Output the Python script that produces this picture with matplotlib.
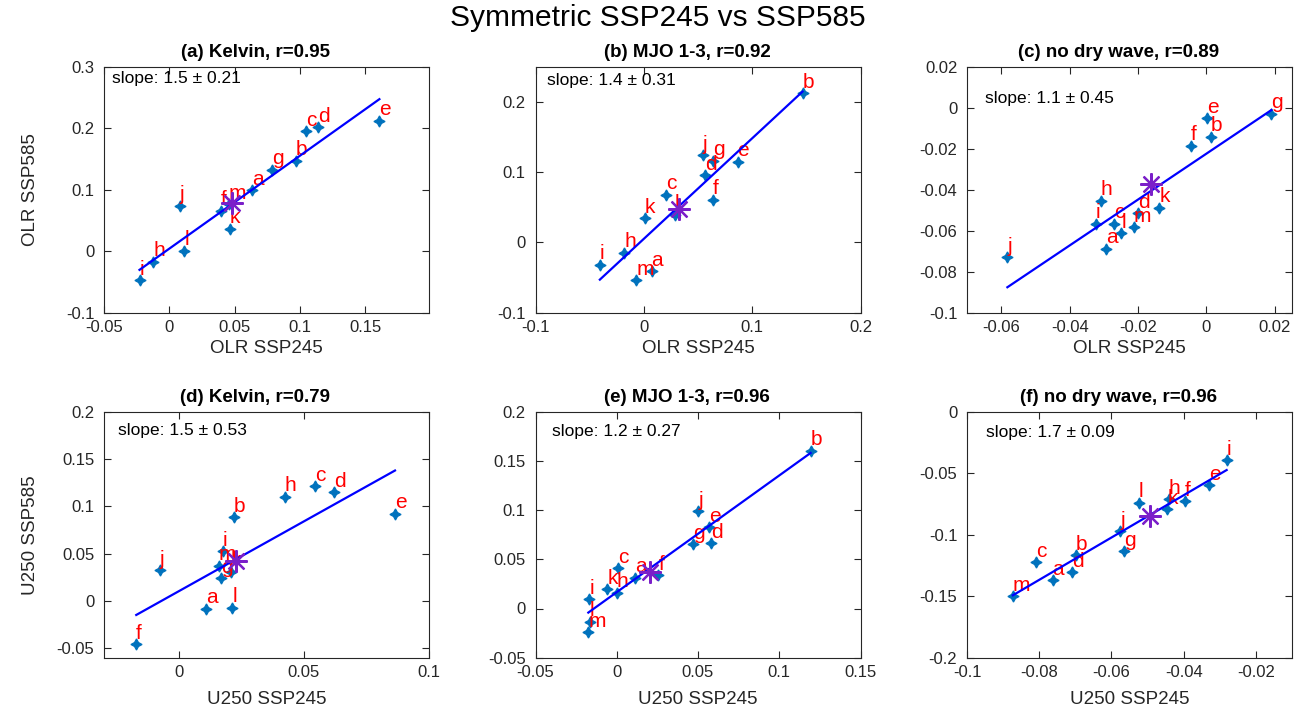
import numpy as np
import matplotlib
matplotlib.use('Agg')
import matplotlib.pyplot as plt
from matplotlib.ticker import MultipleLocator, FuncFormatter

plt.rcParams['font.family'] = ['Liberation Sans', 'DejaVu Sans']
plt.rcParams['axes.unicode_minus'] = False

letters = list('abcdefghijklm')

# OLR panels (top row)
a_x = [0.0636, 0.0969, 0.1046, 0.1141, 0.161, 0.0397, 0.079, -0.0121, -0.0228, 0.0079, 0.0464, 0.0115, 0.0456]
a_y = [0.0992, 0.1466, 0.1952, 0.2016, 0.2125, 0.0657, 0.1327, -0.0168, -0.0476, 0.0738, 0.0361, 0.0005, 0.076]
b_x = [0.0071, 0.1465, 0.0203, 0.0563, 0.0865, 0.0634, 0.064, -0.0182, -0.0406, 0.0542, 0.0009, 0.0286, -0.0068]
b_y = [-0.041, 0.2124, 0.0674, 0.0956, 0.1144, 0.0603, 0.1158, -0.015, -0.0315, 0.1239, 0.0345, 0.0391, -0.0537]
c_x = [-0.0294, 0.0012, -0.027, -0.0201, 0.0002, -0.0046, 0.019, -0.0309, -0.0323, -0.0582, -0.0138, -0.0249, -0.0212]
c_y = [-0.0689, -0.0141, -0.0567, -0.0516, -0.0052, -0.0186, -0.0029, -0.0454, -0.0567, -0.073, -0.0487, -0.0613, -0.0584]

# U250 panels (bottom row)
d_x = [0.0107, 0.022, 0.0543, 0.062, 0.0864, -0.0171, 0.0167, 0.0424, 0.0176, -0.0076, 0.0207, 0.0213, 0.016]
d_y = [-0.008, 0.0884, 0.121, 0.1147, 0.0923, -0.0456, 0.024, 0.1099, 0.0526, 0.0326, 0.031, -0.007, 0.037]
e_x = [0.0113, 0.1193, 0.0006, 0.0578, 0.057, 0.0256, 0.0467, 0.0, -0.0169, 0.0502, -0.0058, -0.0164, -0.0175]
e_y = [0.0314, 0.1602, 0.0408, 0.0661, 0.0826, 0.0337, 0.0651, 0.0162, 0.0094, 0.0988, 0.0195, -0.0136, -0.0243]
f_x = [-0.0763, -0.0699, -0.0809, -0.0708, -0.033, -0.0397, -0.0566, -0.0442, -0.0281, -0.0575, -0.0445, -0.0524, -0.0873]
f_y = [-0.1372, -0.1168, -0.1223, -0.1304, -0.0599, -0.0727, -0.1133, -0.0713, -0.0396, -0.0971, -0.0794, -0.074, -0.1499]

# purple star per panel
star_x = [0.0482, 0.0326, -0.0162, 0.0227, 0.0207, -0.0492]
star_y = [0.0777, 0.0472, -0.037, 0.0421, 0.037, -0.0849]

# fitted line per panel
fit_slope = [1.51, 1.43, 1.12, 1.475, 1.186, 1.72]
fit_icpt = [0.0041, 0.0051, -0.0224, 0.0104, 0.0166, 0.0009]

titles = ['(a) Kelvin', '(b) MJO 1-3', '(c) no dry wave',
          '(d) Kelvin', '(e) MJO 1-3', '(f) no dry wave']
r_vals = [0.95, 0.92, 0.89, 0.79, 0.96, 0.96]
slope_txt = ['1.5 \u00b1 0.21', '1.4 \u00b1 0.31', '1.1 \u00b1 0.45',
             '1.5 \u00b1 0.53', '1.2 \u00b1 0.27', '1.7 \u00b1 0.09']
xlabels = ['OLR SSP245'] * 3 + ['U250 SSP245'] * 3
ylabels = ['OLR SSP585', None, None, 'U250 SSP585', None, None]

xs = [a_x, b_x, c_x, d_x, e_x, f_x]
ys = [a_y, b_y, c_y, d_y, e_y, f_y]

# axis settings
xlims = [(-0.05, 0.199), (-0.1, 0.2), (-0.07, 0.025), (-0.03, 0.1), (-0.05, 0.15), (-0.1, -0.01)]
ylims = [(-0.1, 0.3), (-0.1, 0.25), (-0.1, 0.02), (-0.06, 0.2), (-0.05, 0.2), (-0.2, 0.0)]
xsteps = [0.05, 0.1, 0.02, 0.05, 0.05, 0.02]
ysteps = [0.1, 0.1, 0.02, 0.05, 0.05, 0.05]
txt_pos = [(0.024, 0.953), (0.035, 0.943), (0.055, 0.871),
           (0.044, 0.923), (0.05, 0.919), (0.057, 0.916)]


def fmt(v, pos):
    v = round(v, 6)
    if v == 0:
        return '0'
    return '%g' % v


W, H = 1315.0, 727.0
fig = plt.figure(figsize=(13.15, 7.27), dpi=100)
fig.text(0.5, 1 - 18 / H, 'Symmetric SSP245 vs SSP585', ha='center', va='center', fontsize=21.5)

col_left = [104, 535.5, 967]
row_top = [66.7, 411.7]
ax_w, ax_h = 325, 246
dark = '#262626'

for n in range(6):
    r, c = divmod(n, 3)
    ax = fig.add_axes([col_left[c] / W, (H - row_top[r] - ax_h) / H, ax_w / W, ax_h / H])
    x = np.array(xs[n])
    y = np.array(ys[n])

    ax.plot(x, y, linestyle='none', marker=(4, 1, 0), ms=8, color='#0072BD',
            mec='#0072BD', mew=0.9, zorder=2)
    for lab, xi, yi in zip(letters, x, y):
        ax.annotate(lab, (xi, yi), xytext=(0, 4), textcoords='offset points',
                    ha='left', va='baseline', color='red', fontsize=15, zorder=3)
    xl = np.array([x.min(), x.max()])
    ax.plot(xl, fit_slope[n] * xl + fit_icpt[n], color='blue', lw=1.6, zorder=4)
    ax.plot(star_x[n], star_y[n], linestyle='none', marker=(8, 2, 0), ms=16,
            color='#7B1FC9', mew=1.6, zorder=5)

    ax.text(txt_pos[n][0], txt_pos[n][1], 'slope: ' + slope_txt[n], transform=ax.transAxes,
            ha='left', va='center', fontsize=12.5, color='black')

    ax.set_xlim(xlims[n])
    ax.set_ylim(ylims[n])
    ax.xaxis.set_major_locator(MultipleLocator(xsteps[n]))
    ax.yaxis.set_major_locator(MultipleLocator(ysteps[n]))
    ax.xaxis.set_major_formatter(FuncFormatter(fmt))
    ax.yaxis.set_major_formatter(FuncFormatter(fmt))
    ax.tick_params(direction='in', top=True, right=True, length=5, width=0.8,
                   labelsize=12, colors=dark)
    ax.tick_params(axis='x', pad=5)
    ax.tick_params(axis='y', pad=7)
    for sp in ax.spines.values():
        sp.set_color(dark)
        sp.set_linewidth(0.8)

    ax.set_title('%s, r=%.2f' % (titles[n], r_vals[n]), fontsize=13.5,
                 fontweight='bold', pad=7, x=0.466)
    ax.set_xlabel(xlabels[n], fontsize=13.5, color=dark, labelpad=4 if r == 0 else 8)
    if ylabels[n]:
        ax.set_ylabel(ylabels[n], fontsize=13.5, color=dark)
        ax.yaxis.set_label_coords(-0.2, 0.5)

fig.savefig('out.png', dpi=100)
